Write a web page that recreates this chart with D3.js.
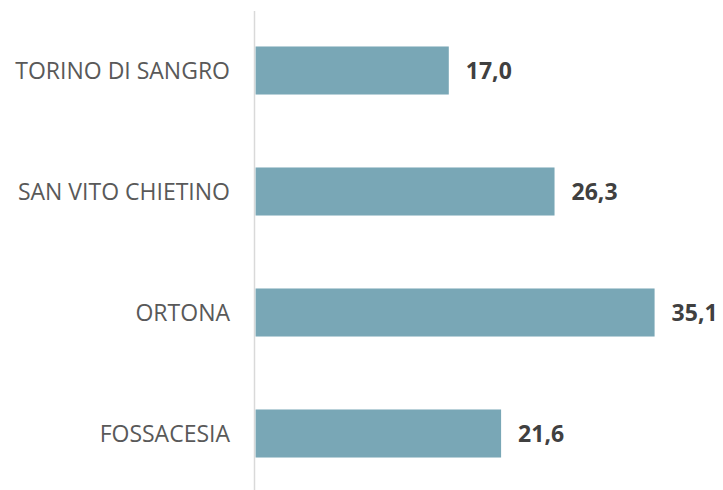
<!DOCTYPE html>
<html>
<head>
<meta charset="utf-8">
<script src="https://cdn.jsdelivr.net/npm/d3@7"></script>
<style>
  body { margin: 0; background: #fff; }
  svg { display: block; }
</style>
</head>
<body>
<div id="chart"></div>
<script>
// data
const comuni = ['TORINO DI SANGRO', 'SAN VITO CHIETINO', 'ORTONA', 'FOSSACESIA'];
const valori = [17.0, 26.3, 35.1, 21.6];

const width = 723, height = 490;
const barColor = '#79a7b6',
    axisColor = '#d9d9d9',
    labelColor = '#595959',
    valueColor = '#404040';

const svg = d3.select('#chart').append('svg')
    .attr('width', width)
    .attr('height', height);

const x = d3.scaleLinear()
    .domain([0, 40])
    .range([255.5, 255.5 + 40 * 11.37]);

const y = d3.scaleBand()
    .domain(comuni)
    .range([10, 494])
    .paddingInner(0.603)
    .paddingOuter(0.3015);

// bars
svg.append('g').selectAll('rect')
    .data(comuni)
    .enter()
    .append('rect')
    .attr('x', x(0))
    .attr('y', d => y(d))
    .attr('width', (d, i) => x(valori[i]) - x(0))
    .attr('height', y.bandwidth())
    .attr('fill', barColor);

// vertical axis line
svg.append('line')
    .attr('x1', x(0) - 1).attr('x2', x(0) - 1)
    .attr('y1', 11).attr('y2', height)
    .attr('stroke', axisColor)
    .attr('stroke-width', 1.5);

// category labels
svg.append('g').selectAll('text')
    .data(comuni)
    .enter()
    .append('text')
    .attr('x', 230)
    .attr('y', d => y(d) + y.bandwidth() / 2)
    .attr('dy', '0.35em')
    .attr('text-anchor', 'end')
    .attr('font-family', '"Open Sans", sans-serif')
    .attr('font-size', 23)
    .attr('fill', labelColor)
    .text(d => d);

// value labels
svg.append('g').selectAll('text')
    .data(comuni)
    .enter()
    .append('text')
    .attr('x', (d, i) => x(valori[i]) + 17)
    .attr('y', d => y(d) + y.bandwidth() / 2)
    .attr('dy', '0.35em')
    .attr('font-family', '"Open Sans", sans-serif')
    .attr('font-weight', 'bold')
    .attr('font-size', 23)
    .attr('fill', valueColor)
    .text((d, i) => d3.format('.1f')(valori[i]).replace('.', ','));
</script>
</body>
</html>
